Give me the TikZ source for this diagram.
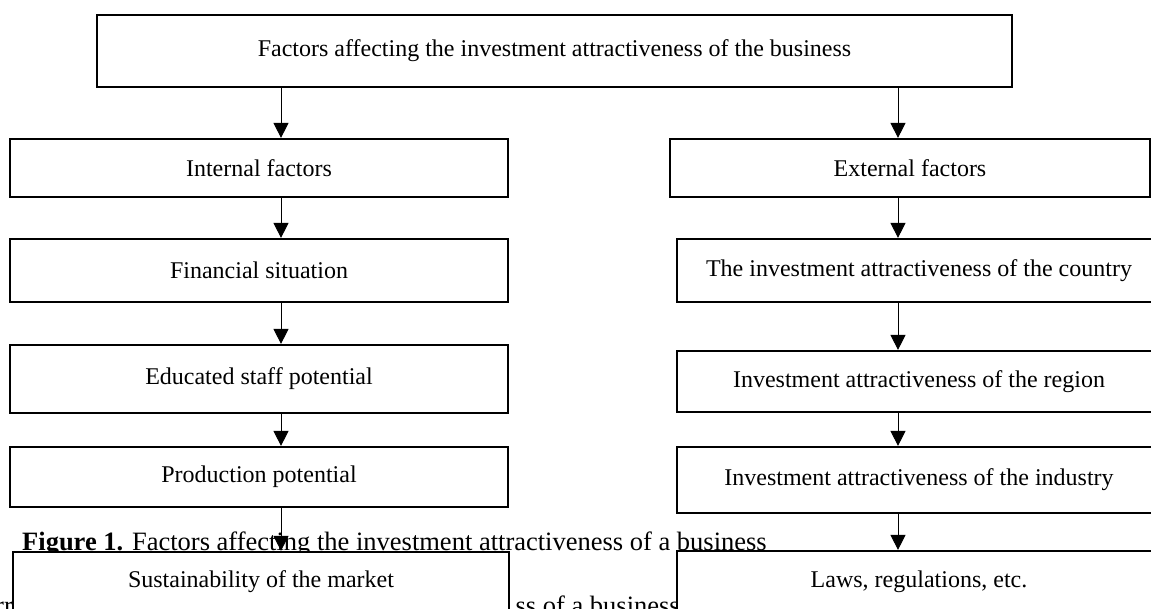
\documentclass[tikz,border=0pt]{standalone}
\usepackage{fontspec}
\setmainfont{Liberation Serif}
\usetikzlibrary{arrows.meta}

\newcommand{\figfont}{\fontsize{24}{28}\selectfont}
\newcommand{\capfont}{\fontsize{26.5}{30}\selectfont}

\tikzset{
  fbox/.style={draw, line width=2.2pt, fill=white, inner sep=0pt, font=\figfont},
  link/.style={-{Triangle[length=15pt,width=15pt]}, line width=1pt},
  plain/.style={inner sep=0pt, font=\capfont},
}

\begin{document}
\begin{tikzpicture}[x=1pt, y=-1pt]
	\useasboundingbox (0,0) rectangle (1151,608);
	\clip (0,0) rectangle (1151,608);
	
	% caption lines behind the boxes
	\node[plain, anchor=base west] (cap) at (22,550) {\textbf{Figure 1.} Factors affecting the investment attractiveness of a business};
	\node[plain, anchor=base west] (capl) at (-5,614) {rr};
	\node[plain, anchor=base east] (capr) at (680,614) {ss of a business};
	
	\node[fbox, minimum width=915pt, minimum height=72pt] (top) at (554.5,51) {Factors affecting the investment attractiveness of the business};
	
	% Left column
	\node[fbox, minimum width=498pt, minimum height=58pt] (int) at (259,168) {Internal factors};
	\node[fbox, minimum width=498pt, minimum height=63pt] (fin) at (259,270.5) {Financial situation};
	\node[fbox, minimum width=498pt, minimum height=68pt] (edu) at (259,379) {Educated staff potential};
	\node[fbox, minimum width=498pt, minimum height=60pt] (prod) at (259,477) {Production potential};
	\node[fbox, minimum width=496pt, minimum height=60pt] (sust) at (261,582) {Sustainability of the market};
	
	% Right column
	\node[fbox, minimum width=480pt, minimum height=58pt] (ext) at (910,168) {External factors};
	\node[fbox, minimum width=484pt, minimum height=63pt] (ctry) at (919,270.5) {The investment attractiveness of the country};
	\node[fbox, minimum width=484pt, minimum height=61pt] (reg) at (919,381.5) {Investment attractiveness of the region};
	\node[fbox, minimum width=484pt, minimum height=66pt] (ind) at (919,480) {Investment attractiveness of the industry};
	\node[fbox, minimum width=484pt, minimum height=62pt] (laws) at (919,582) {Laws, regulations, etc.};
	
	\coordinate (lx) at (281,0);
	\coordinate (rx) at (898,0);
	
	\draw[link] (top.south -| lx) -- (int.north -| lx);
	\draw[link] (int.south -| lx) -- (fin.north -| lx);
	\draw[link] (fin.south -| lx) -- (edu.north -| lx);
	\draw[link] (edu.south -| lx) -- (prod.north -| lx);
	\draw[link] (prod.south -| lx) -- (sust.north -| lx);
	
	\draw[link] (top.south -| rx) -- (ext.north -| rx);
	\draw[link] (ext.south -| rx) -- (ctry.north -| rx);
	\draw[link] (ctry.south -| rx) -- (reg.north -| rx);
	\draw[link] (reg.south -| rx) -- (ind.north -| rx);
	\draw[link] (ind.south -| rx) -- (laws.north -| rx);
	
\end{tikzpicture}
\end{document}
